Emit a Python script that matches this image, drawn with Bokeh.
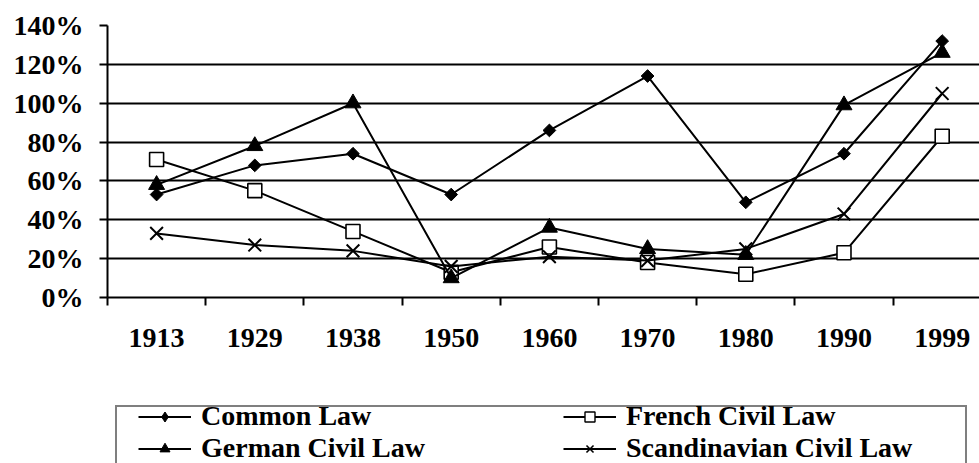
import math
from bokeh.plotting import figure
from bokeh.layouts import column
from bokeh.models import Range1d, FixedTicker, PrintfTickFormatter, Grid, Legend, LegendItem
from bokeh.embed import file_html
from bokeh.resources import INLINE

years = ["1913", "1929", "1938", "1950", "1960", "1970", "1980", "1990", "1999"]
common_law = [53, 68, 74, 53, 86, 114, 49, 74, 132]
french_civil = [71, 55, 34, 13, 26, 18, 12, 23, 83]
german_civil = [58, 78, 100, 10, 36, 25, 22, 99, 126]
scandinavian_civil = [33, 27, 24, 16, 21, 19, 25, 43, 105]
y_ticks = [0, 20, 40, 60, 80, 100, 120, 140]
series_names = ["Common Law", "French Civil Law", "German Civil Law", "Scandinavian Civil Law"]

FONT = "Liberation Serif"
xs = [i + 0.5 for i in range(len(years))]

p = figure(width=979, height=380, output_backend="svg", toolbar_location=None,
           x_range=Range1d(0, 8.88), y_range=Range1d(0, 140),
           min_border_left=107, min_border_right=0, min_border_top=25, min_border_bottom=83)
p.outline_line_color = None

# y axis
p.yaxis.ticker = FixedTicker(ticks=y_ticks)
p.yaxis.formatter = PrintfTickFormatter(format="%d%%")
p.yaxis.major_tick_out = 8
p.yaxis.major_tick_in = 0
p.yaxis.minor_tick_out = 0
p.yaxis.minor_tick_in = 0
p.yaxis.axis_line_width = 2
p.yaxis.major_tick_line_width = 2
p.yaxis.major_label_standoff = 16
p.yaxis.major_label_text_font = FONT
p.yaxis.major_label_text_font_style = "bold"
p.yaxis.major_label_text_font_size = "28px"
p.yaxis.major_label_text_color = "black"

# x axis: labels at category centres, ticks at category boundaries
p.xaxis.ticker = FixedTicker(ticks=xs, minor_ticks=list(range(len(years) + 1)))
p.xaxis.major_label_overrides = {x: y for x, y in zip(xs, years)}
p.xaxis.major_tick_out = 0
p.xaxis.major_tick_in = 0
p.xaxis.minor_tick_out = 8
p.xaxis.minor_tick_in = 0
p.xaxis.minor_tick_line_color = "black"
p.xaxis.minor_tick_line_width = 2
p.xaxis.axis_line_width = 2
p.xaxis.major_label_standoff = 23
p.xaxis.major_label_text_font = FONT
p.xaxis.major_label_text_font_style = "bold"
p.xaxis.major_label_text_font_size = "28px"
p.xaxis.major_label_text_color = "black"

# grid
p.xgrid.visible = False
p.ygrid.ticker = FixedTicker(ticks=y_ticks[1:-1])
p.ygrid.grid_line_color = "black"
p.ygrid.grid_line_width = 2
top_grid = Grid(dimension=1, ticker=FixedTicker(ticks=[y_ticks[-1]]),
                grid_line_color="#808080", grid_line_width=2)
p.add_layout(top_grid)

marker_styles = [
    dict(marker="square", size=9, angle=math.pi / 4, fill_color="black", line_color="black", line_width=1),
    dict(marker="square", size=14, fill_color="white", line_color="black", line_width=1.6),
    dict(marker="triangle", size=16, fill_color="black", line_color="black"),
    dict(marker="x", size=18, line_color="black", line_width=2),
]
all_vals = [common_law, french_civil, german_civil, scandinavian_civil]

for vals, mk in zip(all_vals, marker_styles):
    p.line(xs, vals, line_color="black", line_width=2)
    p.scatter(xs, vals, **mk)

# legend panel: a second figure below the chart; its series lie outside its
# (0..1) y range, so only the legend entries are visible
q = figure(width=979, height=83, output_backend="svg", toolbar_location=None,
           x_range=Range1d(0, 1), y_range=Range1d(0, 1),
           x_axis_location=None, y_axis_location=None,
           min_border_left=0, min_border_right=0, min_border_top=0, min_border_bottom=0)
q.outline_line_color = None
q.xgrid.visible = False
q.ygrid.visible = False

legend_markers = [
    dict(marker="diamond", fill_color="black", line_color="black"),
    dict(marker="square", fill_color="white", line_color="black", line_width=1.4),
    dict(marker="triangle", fill_color="black", line_color="black"),
    dict(marker="x", line_color="black", line_width=1.6),
]
items = []
for name, vals, mk in zip(series_names, all_vals, legend_markers):
    lr = q.line(xs, vals, line_color="black", line_width=2)
    sr = q.scatter(xs, vals, **mk)
    items.append(LegendItem(label=name, renderers=[lr, sr]))

# invisible renderer used only to give the bordered legend box its rows
ghost = q.line(xs, common_law, line_alpha=0)

common_kw = dict(
    orientation="vertical", padding=5, spacing=0, margin=0,
    glyph_width=53, glyph_height=25, label_standoff=10,
    label_text_font=FONT, label_text_font_style="bold",
    label_text_font_size="28px", label_text_color="black",
)
# q's frame is aligned with the chart frame (left edge at 107px)
leg_box = Legend(items=[LegendItem(label="", renderers=[ghost]),
                        LegendItem(label="", renderers=[ghost])],
                 location=(8, -6),
                 border_line_color="black", border_line_width=2,
                 background_fill_color="white", background_fill_alpha=1,
                 label_width=775, **common_kw)
leg_a = Legend(items=[items[0], items[2]], location=(26, -6),
               border_line_alpha=0, background_fill_alpha=0, **common_kw)
leg_b = Legend(items=[items[1], items[3]], location=(451, -6),
               border_line_alpha=0, background_fill_alpha=0, **common_kw)
q.add_layout(leg_box, "center")
q.add_layout(leg_a, "center")
q.add_layout(leg_b, "center")

layout = column(p, q, spacing=0)
open("out.html", "w").write(file_html(layout, INLINE))
